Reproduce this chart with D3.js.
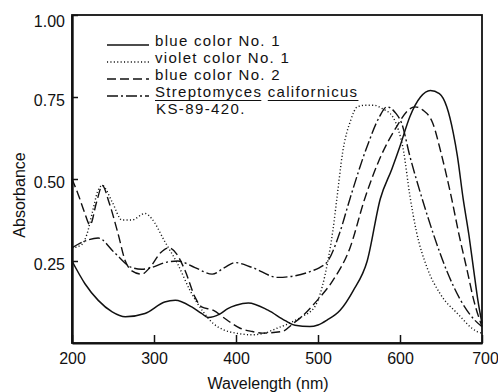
<!DOCTYPE html>
<html><head><meta charset="utf-8">
<script src="https://cdn.jsdelivr.net/npm/d3@7"></script>
<style>
html,body{margin:0;padding:0;background:#fff;}
svg{display:block;font-family:"Liberation Sans",Arial,Helvetica,sans-serif;}
</style></head>
<body><svg id="c" width="498" height="392"></svg>
<script>
// ---- data (wavelength nm, absorbance) ----
const xTicks = [200, 300, 400, 500, 600, 700];
const yTicks = [0.25, 0.50, 0.75, 1.00];

const blue1W = [200,216,232,249,265,289,313,326,346,358,366,380,390,400,415,439,460,472,490,500,511,527,543,560,576,590,600,612,625,637,648,657,665,670,677,684,690,695,700];
const blue1A = [0.25,0.18,0.13,0.095,0.08,0.09,0.125,0.13,0.11,0.09,0.078,0.088,0.105,0.115,0.122,0.10,0.068,0.054,0.05,0.055,0.07,0.10,0.16,0.25,0.44,0.53,0.60,0.69,0.75,0.77,0.76,0.72,0.64,0.57,0.44,0.33,0.22,0.13,0.06];

const violet1W = [200,212,218,225,231,237,249,261,273,289,297,313,329,344,360,372,385,400,420,435,450,465,480,496,505,512,518,523,530,540,548,558,568,578,591,598,604,612,620,633,649,670,694,700];
const violet1A = [0.29,0.30,0.33,0.40,0.46,0.48,0.43,0.375,0.375,0.395,0.38,0.31,0.24,0.16,0.095,0.06,0.04,0.03,0.025,0.03,0.045,0.06,0.08,0.11,0.17,0.25,0.34,0.44,0.58,0.68,0.72,0.725,0.725,0.715,0.69,0.65,0.59,0.45,0.34,0.23,0.15,0.09,0.035,0.03];

const blue2W = [200,208,215,222,230,237,245,256,265,273,285,295,308,318,328,338,350,358,372,389,405,420,432,456,470,480,499,518,539,557,575,596,610,618,628,640,650,663,672,682,690,700];
const blue2A = [0.50,0.45,0.40,0.36,0.43,0.48,0.43,0.335,0.25,0.22,0.21,0.23,0.275,0.29,0.27,0.22,0.14,0.11,0.10,0.07,0.045,0.035,0.03,0.035,0.06,0.08,0.13,0.19,0.29,0.44,0.56,0.66,0.71,0.72,0.71,0.67,0.58,0.44,0.33,0.22,0.13,0.05];

const strepW = [200,215,232,252,273,285,297,313,329,350,371,386,399,420,451,472,493,502,512,527,539,560,575,584,595,602,612,627,641,657,674,691,700];
const strepA = [0.29,0.31,0.32,0.275,0.23,0.225,0.23,0.245,0.25,0.23,0.21,0.23,0.245,0.23,0.20,0.205,0.22,0.23,0.25,0.34,0.44,0.60,0.69,0.72,0.70,0.67,0.57,0.44,0.33,0.22,0.13,0.07,0.05];

const seriesNames = ["blue color No. 1", "violet color No. 1", "blue color No. 2", "Streptomyces californicus"];
const strainLabel = "KS-89-420.";
const xTitle = "Wavelength (nm)";
const yTitle = "Absorbance";

// ---- chart ----
const svg = d3.select("#c");
svg.append("rect").attr("width",498).attr("height",392).attr("fill","#fff");
const L = 72, R = 482, T = 15, B = 343;
const x = d3.scaleLinear().domain([200,700]).range([L,R]);
const y = d3.scaleLinear().domain([0,1]).range([B,T]);
const ink = "#111";

const styles = [
  {dash:null, w:1.5},
  {dash:"1.1,2.3", w:1.4},
  {dash:"9,4", w:1.4},
  {dash:"11,3,2,3", w:1.4}
];
const series = [
  {w:blue1W, a:blue1A},
  {w:violet1W, a:violet1A},
  {w:blue2W, a:blue2A},
  {w:strepW, a:strepA}
];

const line = d3.line().x(d=>x(d[0])).y(d=>y(d[1])).curve(d3.curveMonotoneX);
series.forEach((s,i)=>{
  const pts = s.w.map((w,j)=>[w, s.a[j]]);
  svg.append("path").datum(pts).attr("d", line)
    .attr("fill","none").attr("stroke",ink).attr("stroke-width",styles[i].w)
    .attr("stroke-dasharray",styles[i].dash).attr("stroke-linejoin","round");
});

// frame
svg.append("rect").attr("x",L).attr("y",T).attr("width",R-L).attr("height",B-T)
  .attr("fill","none").attr("stroke",ink).attr("stroke-width",1.8);

// axes
const xa = svg.append("g").attr("transform",`translate(0,${B})`)
  .call(d3.axisBottom(x).tickValues(xTicks).tickFormat(d3.format("d"))
    .tickSizeInner(-8).tickSizeOuter(0).tickPadding(10));
xa.select(".domain").attr("stroke",ink).attr("stroke-width",2);
xa.selectAll(".tick line").attr("stroke",ink).attr("stroke-width",1.5);
xa.selectAll(".tick text").attr("fill",ink).style("font-size","16px")
  .filter(d=>d===700).attr("dx",3);

const ya = svg.append("g").attr("transform",`translate(${L},0)`)
  .call(d3.axisLeft(y).tickValues(yTicks).tickFormat(d3.format(".2f"))
    .tickSizeInner(-6).tickSizeOuter(0).tickPadding(7));
ya.select(".domain").attr("stroke",ink).attr("stroke-width",2.4);
ya.selectAll(".tick line").attr("stroke",ink).attr("stroke-width",1.5);
ya.selectAll(".tick text").attr("fill",ink).style("font-size","16px")
  .attr("dy", d => d === 1 ? "0.72em" : "0.5em");

// titles
svg.append("text").attr("x",268).attr("y",389).attr("text-anchor","middle")
  .attr("fill",ink).style("font-size","16px").text(xTitle);
svg.append("text").attr("transform","translate(25,195) rotate(-90)").attr("text-anchor","middle")
  .attr("fill",ink).style("font-size","16px").text(yTitle);

// legend
const lgX1 = 107, lgX2 = 149, txtX = 155;
const rowBase = [46, 63, 80, 97];
const rowLine = [45, 62, 79, 96];
const lgFont = "15px", lgSpacing = "1.3px";
series.forEach((s,i)=>{
  svg.append("line").attr("x1",lgX1).attr("x2",lgX2).attr("y1",rowLine[i]).attr("y2",rowLine[i])
    .attr("stroke",ink).attr("stroke-width",styles[i].w).attr("stroke-dasharray",styles[i].dash);
});
[0,1,2].forEach(i=>{
  svg.append("text").attr("x",txtX).attr("y",rowBase[i]).attr("fill",ink)
    .style("font-size",lgFont).style("letter-spacing",lgSpacing).text(seriesNames[i]);
});
// Streptomyces row: words underlined separately
const words = seriesNames[3].split(" ");
const t4 = svg.append("text").attr("x",txtX).attr("y",rowBase[3]).attr("fill",ink)
  .style("font-size",lgFont).style("letter-spacing",lgSpacing);
t4.append("tspan").text(words[0]);
t4.append("tspan").text(" ");
t4.append("tspan").text(words[1]);
const n = t4.node();
const w0 = n.getSubStringLength(0, words[0].length);
const s1 = n.getStartPositionOfChar(words[0].length+1).x;
const e2 = n.getEndPositionOfChar(seriesNames[3].length-1).x;
svg.append("line").attr("x1",txtX).attr("x2",txtX+w0-1).attr("y1",100.5).attr("y2",100.5)
  .attr("stroke",ink).attr("stroke-width",1.2);
svg.append("line").attr("x1",s1).attr("x2",e2).attr("y1",100.5).attr("y2",100.5)
  .attr("stroke",ink).attr("stroke-width",1.2);
svg.append("text").attr("x",txtX+1).attr("y",114).attr("fill",ink)
  .style("font-size",lgFont).style("letter-spacing","1.4px").text(strainLabel);
</script></body></html>
